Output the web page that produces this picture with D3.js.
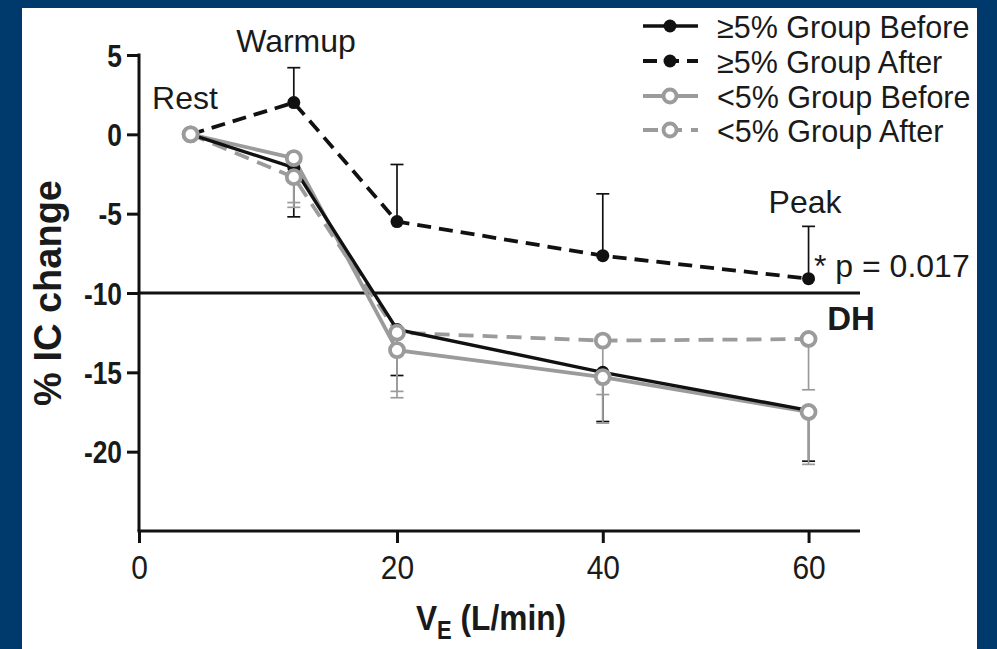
<!DOCTYPE html>
<html>
<head>
<meta charset="utf-8">
<script src="https://cdn.jsdelivr.net/npm/d3@7"></script>
<style>
  html, body { margin: 0; padding: 0; background: #003a6c; }
  svg { display: block; }
  text { font-family: "Liberation Sans", Arial, Helvetica, sans-serif; fill: #1a1a1a; }
</style>
</head>
<body>
<svg id="chart" width="997" height="649"></svg>
<script>
// Stage labels and ventilation (L/min) at each stage
const stages = ["Rest", "Warmup", "20", "40", "60"];
const ve = [4, 12, 20, 40, 60];

// Mean % change in inspiratory capacity, per group
const geBefore = [0, -2.1, -12.3, -15.0, -17.4];
const geAfter = [0, 2.0, -5.5, -7.65, -9.1];
const ltBefore = [0, -1.5, -13.6, -15.3, -17.5];
const ltAfter = [0, -2.7, -12.5, -13.0, -12.9];

// Standard deviations (one-sided error bars)
const geBeforeSD = [0, 3.1, 2.9, 3.1, 3.2];
const geAfterSD = [0, 2.2, 3.6, 3.9, 3.3];
const ltBeforeSD = [0, 2.8, 3.0, 2.9, 3.3];
const ltAfterSD = [0, 1.9, 3.7, 3.4, 3.2];

// Axis ticks
const xTicks = [0, 20, 40, 60];
const yTicks = [5, 0, -5, -10, -15, -20];
const dhThreshold = -10;

const legendLabels = ["\u22655% Group Before", "\u22655% Group After", "<5% Group Before", "<5% Group After"];

const svg = d3.select("#chart");
const BLACK = "#111";
const GRAY = "#9b9b9b";

// white panel inside the navy frame
svg.append("rect").attr("x", 22).attr("y", 8).attr("width", 955).attr("height", 641).attr("fill", "#fff");

const x = d3.scaleLinear().domain([0, 20, 65]).range([139, 397, 860]);
const y = d3.scaleLinear().domain([-25, 5]).range([531, 55]);

// y axis (bracket from top tick down to the x axis)
const yAxis = svg.append("g").attr("transform", `translate(${x(0)},0)`)
  .call(d3.axisLeft(y).tickValues(yTicks).tickSize(12).tickPadding(5).tickFormat(d3.format("d")));
yAxis.select(".domain").remove();
yAxis.append("line").attr("x1", 0).attr("x2", 0).attr("y1", y(5) - 1.5).attr("y2", y(-25))
  .attr("stroke", BLACK).attr("stroke-width", 3);
yAxis.selectAll(".tick line").attr("stroke", BLACK).attr("stroke-width", 3);
yAxis.selectAll(".tick text").attr("fill", BLACK).attr("x", null).attr("dy", null)
  .style("font-size", "31px").style("font-weight", "bold")
  .style("font-family", "'Liberation Sans', Arial, sans-serif")
  .attr("transform", "translate(-17,11) scale(0.85,1)")
  .text(d => d < 0 ? "-" + Math.abs(d) : d);

// x axis
const xAxis = svg.append("g").attr("transform", `translate(0,${y(-25)})`)
  .call(d3.axisBottom(x).tickValues(xTicks).tickSize(12).tickFormat(d3.format("d")));
xAxis.select(".domain").remove();
xAxis.append("line").attr("x1", x(0) - 1.5).attr("x2", x(65)).attr("y1", 0).attr("y2", 0)
  .attr("stroke", BLACK).attr("stroke-width", 3);
xAxis.selectAll(".tick line").attr("stroke", BLACK).attr("stroke-width", 3);
xAxis.selectAll(".tick text").attr("fill", BLACK).attr("y", null).attr("dy", null)
  .style("font-size", "34px")
  .style("font-family", "'Liberation Sans', Arial, sans-serif")
  .attr("transform", "translate(0,48) scale(0.88,1)");

// DH threshold line
svg.append("line").attr("x1", x(0)).attr("x2", x(65)).attr("y1", y(dhThreshold)).attr("y2", y(dhThreshold))
  .attr("stroke", BLACK).attr("stroke-width", 3);
svg.append("text").attr("x", 851).attr("y", 330).attr("text-anchor", "middle")
  .style("font-size", "33px").style("font-weight", "bold").text("DH");

const series = [
  { vals: geBefore, sd: geBeforeSD, color: BLACK, dash: null, filled: true, dir: -1, w: 3.4 },
  { vals: geAfter, sd: geAfterSD, color: BLACK, dash: "14,8", filled: true, dir: 1, w: 3.8 },
  { vals: ltBefore, sd: ltBeforeSD, color: GRAY, dash: null, filled: false, dir: -1, w: 3.8 },
  { vals: ltAfter, sd: ltAfterSD, color: GRAY, dash: "15,9", filled: false, dir: -1, w: 3.8 }
];

const line = d3.line().x((d, i) => x(ve[i])).y(d => y(d));

// error bars
const capHalf = 6.5;
series.forEach(s => {
  const g = svg.append("g");
  s.vals.forEach((v, i) => {
    if (!s.sd[i]) return;
    const end = v + s.dir * s.sd[i];
    g.append("line").attr("x1", x(ve[i])).attr("x2", x(ve[i])).attr("y1", y(v)).attr("y2", y(end))
      .attr("stroke", s.color).attr("stroke-width", 1.7);
    g.append("line").attr("x1", x(ve[i]) - capHalf).attr("x2", x(ve[i]) + capHalf).attr("y1", y(end)).attr("y2", y(end))
      .attr("stroke", s.color).attr("stroke-width", 1.7);
  });
});

// lines: gray first, then black on top
[2, 3, 0, 1].forEach(k => {
  const s = series[k];
  svg.append("path").datum(s.vals).attr("d", line).attr("fill", "none")
    .attr("stroke", s.color).attr("stroke-width", s.w).attr("stroke-dasharray", s.dash);
});

// markers: black filled dots, then open gray circles above
[0, 1, 2, 3].forEach(k => {
  const s = series[k];
  svg.append("g").selectAll("circle").data(s.vals).join("circle")
    .attr("cx", (d, i) => x(ve[i])).attr("cy", d => y(d))
    .attr("r", s.filled ? 6.5 : 7)
    .attr("fill", s.filled ? s.color : "#fff")
    .attr("stroke", s.color).attr("stroke-width", s.filled ? 0 : 3.8);
});

// stage annotations
const ann = svg.append("g").style("font-size", "32px");
ann.append("text").attr("x", 185).attr("y", 109).attr("text-anchor", "middle").text(stages[0]);
ann.append("text").attr("x", 296).attr("y", 52).attr("text-anchor", "middle").text(stages[1]);
ann.append("text").attr("x", 805).attr("y", 213).attr("text-anchor", "middle").text("Peak");
ann.append("text").attr("x", 814).attr("y", 277).text("* p = 0.017");

// axis titles
svg.append("text").attr("transform", "translate(61,293) rotate(-90)").attr("text-anchor", "middle")
  .style("font-size", "38px").style("font-weight", "bold").text("% IC change");
const xt = svg.append("text").attr("transform", "translate(491,630) scale(0.88,1)").attr("text-anchor", "middle")
  .style("font-size", "36px").style("font-weight", "bold");
xt.append("tspan").text("V");
xt.append("tspan").attr("dy", 9).style("font-size", "25px").text("E");
xt.append("tspan").attr("dy", -9).text(" (L/min)");

// legend
const leg = svg.append("g");
const rowsY = [26, 61, 96, 130];
series.forEach((s, k) => {
  const r = leg.append("g").attr("transform", `translate(0,${rowsY[k]})`);
  r.append("line").attr("x1", 643).attr("x2", 698).attr("y1", 0).attr("y2", 0)
    .attr("stroke", s.color).attr("stroke-width", s.w).attr("stroke-dasharray", s.dash);
  r.append("circle").attr("cx", 670).attr("cy", 0).attr("r", 6.5)
    .attr("fill", s.filled ? s.color : "#fff").attr("stroke", s.color).attr("stroke-width", s.filled ? 0 : 3.8);
  r.append("text").attr("x", 717).attr("y", 12).style("font-size", "30.5px").text(legendLabels[k]);
});
</script>
</body>
</html>
